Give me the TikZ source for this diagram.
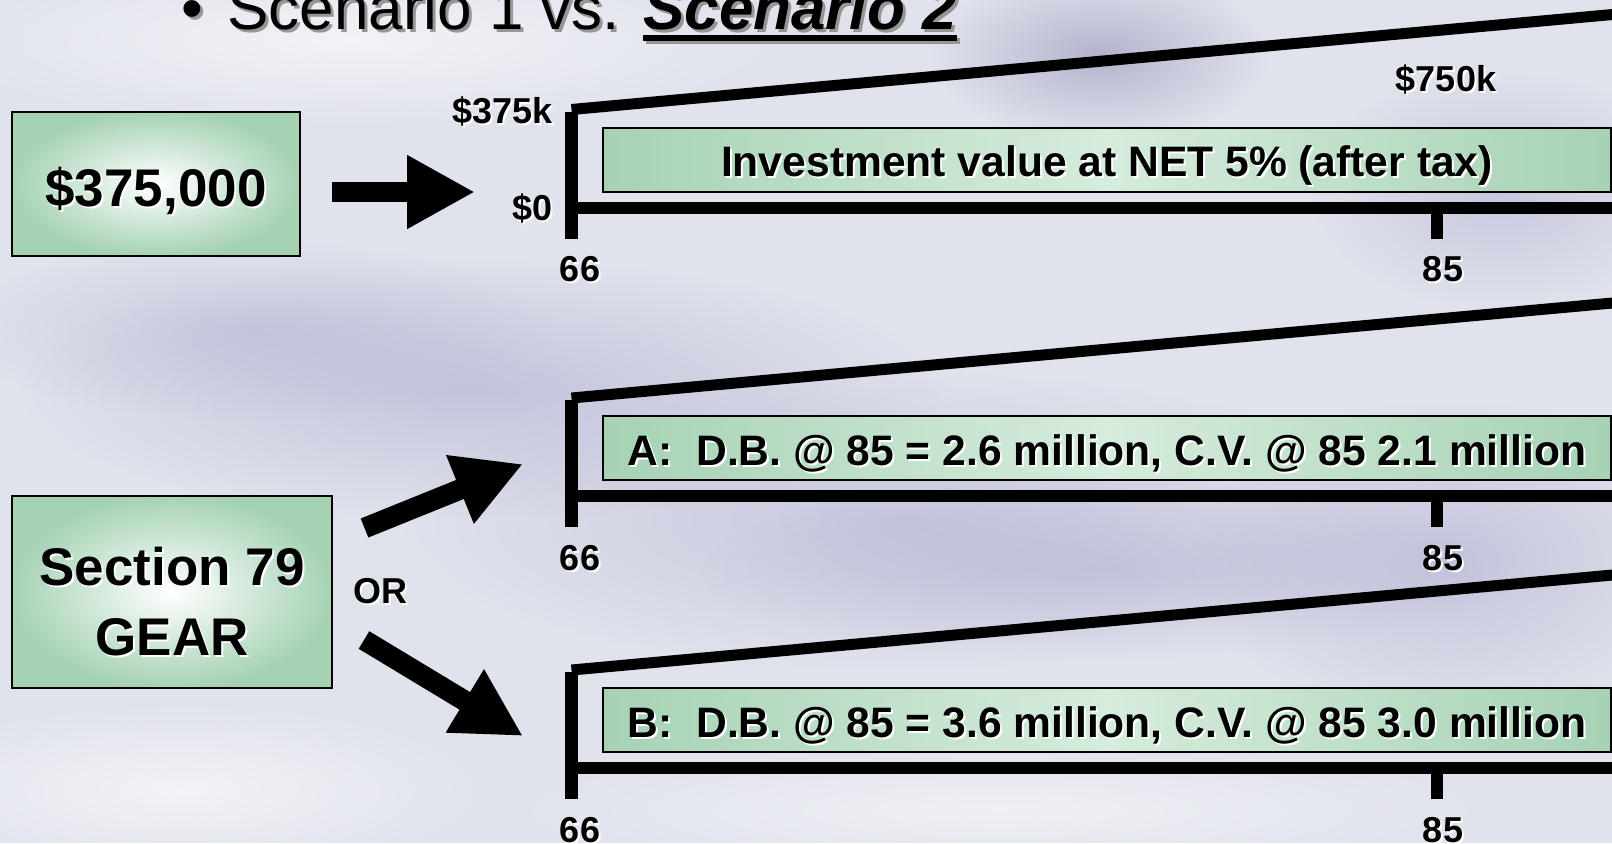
\documentclass[tikz,border=0pt]{standalone}
\usepackage{fontspec}
\setmainfont{Liberation Sans}
\usetikzlibrary{arrows.meta,fadings}
\definecolor{bgbase}{RGB}{224,226,236}
\definecolor{lav}{RGB}{160,160,200}
\definecolor{lavdark}{RGB}{150,150,185}
\definecolor{boxg}{RGB}{166,210,180}
\definecolor{boxl}{RGB}{214,236,220}
\definecolor{shgray}{RGB}{150,150,150}
\tikzfading[name=blob, inner color=transparent!0, outer color=transparent!100]
\newcommand\wsh[1]{\leavevmode\rlap{\kern1pt\raisebox{-1pt}{\color{white}#1}}#1}
\newcommand\gsh[1]{\leavevmode\rlap{\kern1.5pt\raisebox{-1.5pt}{\color{shgray}#1}}#1}
\newcommand\thul[1]{\setbox0\hbox{#1}\rlap{\rule[-6pt]{\wd0}{3pt}}\box0}
\tikzset{
 smallbox/.style={draw=black, line width=1pt, inner color=white, outer color=boxg, inner sep=0pt},
 longbox/.style={draw=black, line width=1pt, left color=boxg, right color=boxg, middle color=boxl,
   minimum width=504pt, minimum height=32pt, inner sep=0pt, text height=17pt, text depth=0pt,
   font=\fontsize{21.3}{24}\selectfont\bfseries},
 bigtxt/.style={font=\fontsize{26.5}{35}\selectfont\bfseries},
 lbl/.style={font=\fontsize{18}{20}\selectfont\bfseries, inner sep=0pt},
 axisline/.style={line width=6pt},
 axisbar/.style={line width=6.5pt},
 slant/.style={line width=5.5pt},
 blockarrow/.style={line width=10.25pt, -{Triangle[length=34pt, width=34.5pt]}},
}
\begin{document}
\begin{tikzpicture}[x=0.5pt,y=-0.5pt]
\useasboundingbox (0,0) rectangle (1612,843);
\fill[bgbase] (0,0) rectangle (1612,843);
% soft background blobs
\fill[white, path fading=blob, opacity=.6] (350,40) ellipse (450 and 90);
\fill[lavdark, path fading=blob, opacity=.6] (1100,55) ellipse (170 and 85);
\fill[lav, path fading=blob, opacity=.4] (1500,190) ellipse (190 and 120);
\fill[lav, path fading=blob, opacity=.35] (250,330) ellipse (300 and 90);
\fill[lav, path fading=blob, opacity=.45] (480,390) ellipse (460 and 130);
\fill[lav, path fading=blob, opacity=.4] (900,520) ellipse (500 and 150);
\fill[lav, path fading=blob, opacity=.35] (1100,570) ellipse (400 and 90);
\fill[lav, path fading=blob, opacity=.45] (1450,560) ellipse (260 and 160);
\fill[white, path fading=blob, opacity=.6] (180,790) ellipse (320 and 90);
\fill[white, path fading=blob, opacity=.5] (1000,810) ellipse (520 and 70);
% title
\node[anchor=base west, inner sep=0pt, font=\fontsize{31}{36}\selectfont] (title) at (181,29)
  {\gsh{\makebox[23pt][l]{\textbullet}Scenario 1 vs. }\gsh{\bfseries\itshape\thul{Scenario 2}}};
% left boxes
\node[smallbox, bigtxt, minimum width=144pt, minimum height=72pt, text height=22pt, text depth=0pt] (cash) at (156,184) {\wsh{\$375,000}};
\node[smallbox, minimum width=160pt, minimum height=96pt,
  label={[bigtxt, align=center, yshift=-5.5pt]center:{\wsh{Section 79}\\\wsh{GEAR}}}] (gear) at (172,592) {};
\node[lbl, anchor=base] (or) at (380,603) {\wsh{OR}};
% charts
\foreach \k/\B in {1/207.5,2/496,3/768}{
  \coordinate (vt\k) at (571.5,\B-96);
  \coordinate (vb\k) at (571.5,\B+31);
  \coordinate (sa\k) at (571.5,\B-98);
  \coordinate (sb\k) at (1630,\B-194.6);
  \coordinate (ha\k) at (565,\B);
  \coordinate (hb\k) at (1630,\B);
  \coordinate (ta\k) at (1436.5,\B);
  \coordinate (tb\k) at (1436.5,\B+31);
  \draw[axisbar] (vt\k) -- (vb\k);
  \draw[slant] (sa\k) -- (sb\k);
  \draw[axisline] (ha\k) -- (hb\k);
  \draw[axisline] (ta\k) -- (tb\k);
  \node[lbl, anchor=base] (m66\k) at (580,\B+74) {\wsh{66}};
  \node[lbl, anchor=base] (m85\k) at (1443,\B+74) {\wsh{85}};
}
\node[longbox] (inv) at (1107,159.5) {\wsh{Investment value at NET 5\% (after tax)}};
\node[longbox] (optA) at (1107,448) {\wsh{A:~~D.B. @ 85 = 2.6 million, C.V. @ 85 2.1 million}};
\node[longbox] (optB) at (1107,720) {\wsh{B:~~D.B. @ 85 = 3.6 million, C.V. @ 85 3.0 million}};
\node[lbl, anchor=base east] (v375) at (553,123) {\wsh{\$375k}};
\node[lbl, anchor=base east] (v0) at (553,220) {\wsh{\$0}};
\node[lbl, anchor=base] (v750) at (1446,91) {\wsh{\$750k}};
% arrows
\coordinate (a1s) at (332,192);
\coordinate (a1e) at (475,192);
\coordinate (a2s) at (364.5,528);
\coordinate (a2e) at (523,464);
\coordinate (a3s) at (364,640);
\coordinate (a3e) at (523,736);
\draw[blockarrow] (a1s) -- (a1e);
\draw[blockarrow] (a2s) -- (a2e);
\draw[blockarrow] (a3s) -- (a3e);
\end{tikzpicture}
\end{document}
